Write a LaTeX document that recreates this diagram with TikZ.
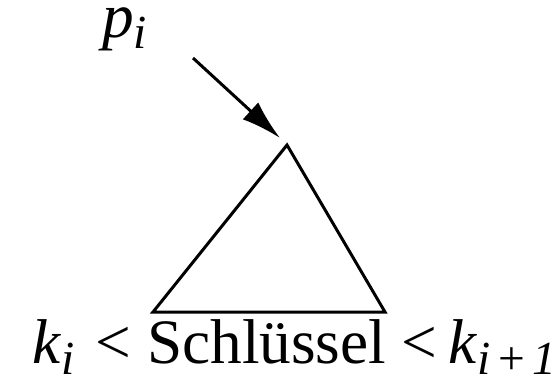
\documentclass[tikz,border=0pt]{standalone}
\usepackage{fontspec}
\setmainfont{Liberation Serif}
\usepackage{tikz}
\usetikzlibrary{arrows.meta,positioning}
\newcommand{\bigtext}{\fontsize{36}{40}\selectfont}
\newcommand{\lowsub}[1]{\raisebox{-6.5pt}{\fontsize{27}{30}\selectfont\itshape #1}}
\begin{document}
\begin{tikzpicture}
\useasboundingbox (0,0) rectangle (11.04,7.64);
\node (p) [draw=none,inner sep=0pt,anchor=base west] at (2.04,6.90) {\bigtext\textit{p}\lowsub{i}};
\node (keys) [draw=none,inner sep=0pt,anchor=base west] at (0.64,0.38) {\bigtext\textit{k}\lowsub{i}\,\,< Schlüssel <\,\textit{k}\lowsub{i\,{\upshape +}\,1}};
\coordinate (top) at (5.74,4.74);
\coordinate (bl) at (3.06,1.40);
\coordinate (br) at (7.70,1.40);
\coordinate (s) at (3.86,6.48);
\coordinate (t) at (5.60,4.88);
\draw [line width=1.7pt,line join=miter] (top)--(bl)--(br)--cycle;
\draw [line width=1.7pt,-{Latex[length=0.8cm,width=0.46cm]}] (s)--(t);
\end{tikzpicture}
\end{document}
